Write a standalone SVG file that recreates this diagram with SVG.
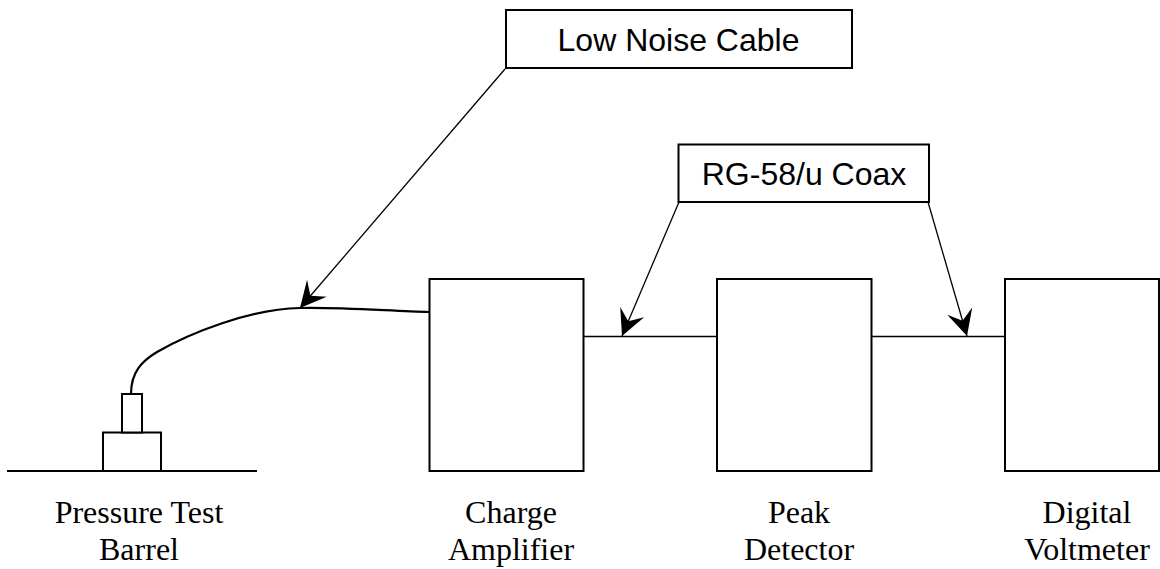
<svg xmlns="http://www.w3.org/2000/svg" width="1160" height="569" viewBox="0 0 1160 569">
<style>
.b{fill:#fff;stroke:#000;stroke-width:2}
.w{fill:none;stroke:#000;stroke-width:1.6}
.g{fill:none;stroke:#000;stroke-width:2}
.l{fill:none;stroke:#000;stroke-width:1.3}
.c{fill:none;stroke:#000;stroke-width:2.2}
.s{font-family:"Liberation Sans",Arial,sans-serif;font-size:32px;text-anchor:middle;fill:#000}
.t{font-family:"Liberation Serif","Times New Roman",serif;font-size:32px;text-anchor:middle;fill:#000}
</style>
<defs><marker id="a" markerUnits="userSpaceOnUse" markerWidth="30" markerHeight="30" refX="26" refY="15" orient="auto"><path d="M0 2 L26 15 L0 28 L10 15Z" fill="#000"/></marker></defs>
<rect width="1160" height="569" fill="#fff"/>
<g id="connectors">
<path class="c" d="M131 394C131 372 142 361 157 352C190 333 250 309 300 308C340 307 390 311 429 312"/>
<path class="w" d="M583 336.500H717M871 336.500H1005"/>
<path class="l" d="M505 69L300 308" marker-end="url(#a)"/>
<path class="l" d="M679 202L622 336" marker-end="url(#a)"/>
<path class="l" d="M928 202L967 336" marker-end="url(#a)"/>
</g>
<g id="barrel"><path class="g" d="M7 471H257"/><rect class="b" x="103" y="432.500" width="58" height="38.500"/><rect class="b" x="122" y="394" width="20" height="38.500"/>
<text class="t" x="139" y="523">Pressure Test</text><text class="t" x="139" y="560">Barrel</text></g>
<g id="charge-amplifier"><rect class="b" x="429.500" y="279" width="154" height="192"/><text class="t" x="511" y="523">Charge</text><text class="t" x="511" y="560">Amplifier</text></g>
<g id="peak-detector"><rect class="b" x="717" y="279" width="154.500" height="192"/><text class="t" x="799" y="523">Peak</text><text class="t" x="799" y="560">Detector</text></g>
<g id="digital-voltmeter"><rect class="b" x="1005" y="279" width="154" height="192"/><text class="t" x="1087" y="523">Digital</text><text class="t" x="1087" y="560">Voltmeter</text></g>
<g id="low-noise-cable"><rect class="b" x="506" y="10" width="346" height="58"/><text class="s" x="678.500" y="51">Low Noise Cable</text></g>
<g id="rg58"><rect class="b" x="678.500" y="144.500" width="250.500" height="57.500"/><text class="s" x="804" y="185">RG-58/u Coax</text></g>
</svg>
